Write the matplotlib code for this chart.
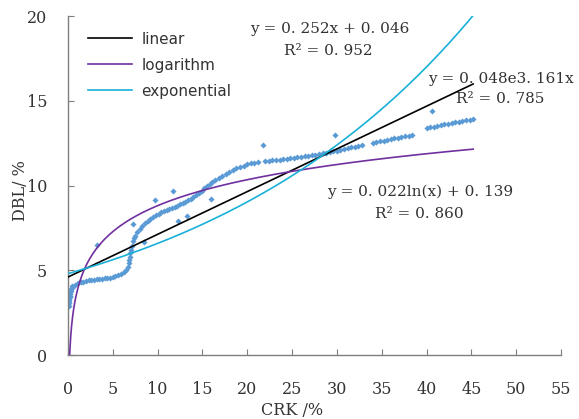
import numpy as np
from matplotlib import pyplot as plt

crk = [0.10, 0.12, 0.14, 0.16, 0.18, 0.20, 0.22, 0.25, 0.30, 0.35, 0.40,
       0.5, 0.8, 1.1, 1.4, 1.7, 2.0, 2.3, 2.6, 2.9, 3.2, 3.5, 3.8, 4.1, 4.4, 4.7,
       5.0, 5.3, 5.6, 5.9, 6.2, 6.5, 6.7,
       6.8, 6.85, 6.9, 6.95, 7.0, 7.1, 7.2, 7.35, 7.5,
       7.7, 8.0, 8.3, 8.6, 8.9, 9.2, 9.5, 9.8, 10.1, 10.4, 10.7, 11.0, 11.3, 11.6,
       11.9, 12.2, 12.5, 12.8, 13.1, 13.4, 13.7, 14.0, 14.3, 14.6, 14.9, 15.2,
       15.5, 15.8, 16.1, 16.4, 16.8, 17.2, 17.6, 18.0, 18.4, 18.8, 19.2, 19.6,
       20.0, 20.4, 20.8, 21.2,
       22.0, 22.4, 22.8, 23.2, 23.6, 24.0, 24.4, 24.8, 25.2, 25.6, 26.0, 26.4,
       26.8, 27.2, 27.6, 28.0, 28.4, 28.8, 29.2,
       29.6, 30.0, 30.4, 30.8, 31.2, 31.6, 32.0, 32.4, 32.8,
       34.0, 34.4, 34.8, 35.2, 35.6, 36.0, 36.4, 36.8, 37.2, 37.6, 38.0, 38.4,
       40.0, 40.4, 40.8, 41.2, 41.6, 42.0, 42.4, 42.8, 43.2, 43.6, 44.0, 44.4,
       44.8, 45.2]
dbl = [2.90, 3.05, 3.20, 3.30, 3.40, 3.50, 3.60, 3.70, 3.80, 3.90, 3.95,
       4.05, 4.15, 4.22, 4.28, 4.33, 4.37, 4.40, 4.43, 4.45, 4.47, 4.48, 4.50,
       4.52, 4.54, 4.56, 4.60, 4.65, 4.72, 4.80, 4.90, 5.02, 5.20,
       5.40, 5.60, 5.80, 6.00, 6.20, 6.45, 6.70, 6.90, 7.05,
       7.25, 7.45, 7.62, 7.78, 7.92, 8.05, 8.15, 8.25, 8.33, 8.42, 8.50, 8.57,
       8.64, 8.70, 8.76, 8.82, 8.88, 8.95, 9.03, 9.12, 9.22, 9.33, 9.45, 9.57,
       9.70, 9.83, 9.95, 10.07, 10.20, 10.32, 10.45, 10.58, 10.70, 10.82, 10.92,
       11.02, 11.10, 11.18, 11.25, 11.30, 11.35, 11.38,
       11.42, 11.45, 11.48, 11.50, 11.53, 11.55, 11.58, 11.60, 11.63, 11.66,
       11.69, 11.72, 11.75, 11.78, 11.82, 11.86, 11.90, 11.94, 11.98,
       12.02, 12.06, 12.10, 12.15, 12.20, 12.25, 12.30, 12.35, 12.40,
       12.50, 12.55, 12.60, 12.65, 12.70, 12.74, 12.78, 12.82, 12.86, 12.90,
       12.94, 12.98,
       13.40, 13.44, 13.48, 13.52, 13.56, 13.60, 13.64, 13.68, 13.72, 13.76,
       13.80, 13.84, 13.88, 13.92]

# scattered outliers
out_crk = [3.2, 7.2, 8.5, 9.7, 11.7, 12.3, 13.3, 16.0, 21.8, 29.8, 40.6]
out_dbl = [6.5, 7.75, 6.65, 9.15, 9.7, 7.9, 8.2, 9.2, 12.4, 13.0, 14.4]

# fitted coefficients (as printed on the chart, fractions)
lin_a, lin_b = 0.252, 0.046
log_a, log_b = 0.0221, 0.139
exp_a, exp_b = 0.048, 3.161

eq_texts = ['y = 0. 252x + 0. 046', 'R\u00b2 = 0. 952',
            'y = 0. 048e3. 161x', 'R\u00b2 = 0. 785',
            'y = 0. 022ln(x) + 0. 139', 'R\u00b2 = 0. 860']

fig = plt.figure(figsize=(5.79, 4.19), dpi=100)
ax = fig.add_axes([0.1174, 0.1527, 0.8515, 0.8091])

ax.plot(crk + out_crk, dbl + out_dbl, 'D', color='#5b9bd5', ms=3.1, mew=0, zorder=2)

xmax = max(crk)
xl = np.linspace(0, xmax, 200)
xg = np.linspace(0.19, xmax, 400)
ax.plot(xl, (lin_a * xl / 100 + lin_b) * 100, color='black', lw=1.2, label='linear', zorder=3)
ax.plot(xg, (log_a * np.log(xg / 100) + log_b) * 100, color='#7030a0', lw=1.2,
        label='logarithm', zorder=3)
ax.plot(xl, exp_a * np.exp(exp_b * xl / 100) * 100, color='#1ab0d8', lw=1.2,
        label='exponential', zorder=3)

ax.set_xlim(0, 55)
ax.set_ylim(0, 20)
ax.set_xticks(range(0, 56, 5))
ax.set_yticks(range(0, 21, 5))
for s in ['top', 'right']:
    ax.spines[s].set_visible(False)
for s in ['left', 'bottom']:
    ax.spines[s].set_color('#7f7f7f')
    ax.spines[s].set_linewidth(1.0)
ax.tick_params(axis='both', direction='in', length=4, color='#7f7f7f',
               labelsize=11.5, labelcolor='#333333')
ax.tick_params(axis='x', pad=19)
ax.tick_params(axis='y', pad=15)
for lab in ax.get_xticklabels() + ax.get_yticklabels():
    lab.set_family('DejaVu Serif')

ax.set_xlabel('CRK /%', family='DejaVu Serif', fontsize=11.5, color='#333333')
ax.set_ylabel('DBL/ %', family='DejaVu Serif', fontsize=11.5, color='#333333')
ax.xaxis.set_label_coords(0.455, -0.14)
ax.yaxis.set_label_coords(-0.08, 0.485)

leg = ax.legend(loc='upper left', bbox_to_anchor=(0.028, 0.972), frameon=False,
                fontsize=11, handlelength=2.9, handletextpad=0.6, labelspacing=0.72,
                borderaxespad=0)
for t in leg.get_texts():
    t.set_color('#333333')

tk = dict(family='DejaVu Serif', fontsize=11, color='#333333', ha='center', va='center')
ax.text(29.2, 19.23, eq_texts[0], **tk)
ax.text(29.0, 17.93, eq_texts[1], **tk)
ax.text(48.3, 16.27, eq_texts[2], clip_on=False, **tk)
ax.text(48.2, 15.09, eq_texts[3], **tk)
ax.text(39.3, 9.65, eq_texts[4], **tk)
ax.text(39.2, 8.34, eq_texts[5], **tk)

fig.savefig('out.png', dpi=100)
